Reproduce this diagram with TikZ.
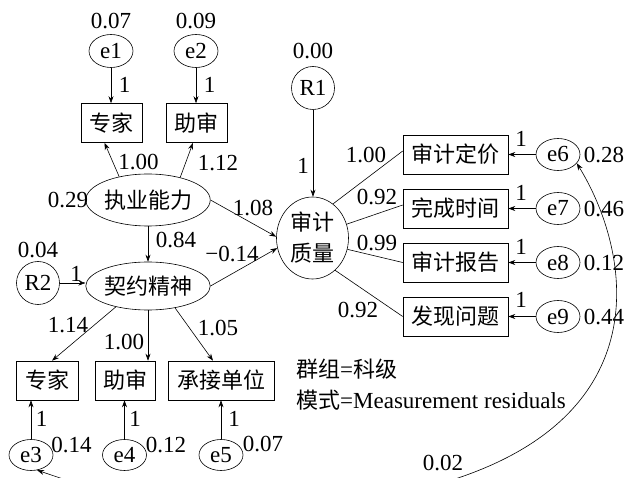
\documentclass[tikz,border=0pt]{standalone}
\usepackage{fontspec}
\setmainfont{Liberation Serif}
\newfontfamily\cjk{Noto Sans CJK SC}
\usetikzlibrary{arrows.meta,shapes.geometric}
\begin{document}
\begin{tikzpicture}[x=1pt,y=-1pt,
  every node/.style={font=\fontsize{23}{26}\selectfont, inner sep=0pt},
  lat/.style={draw, ellipse, minimum width=110pt, minimum height=52pt, line width=0.6pt},
  obs/.style={draw, rectangle, minimum height=39pt, line width=0.6pt},
  err/.style={draw, ellipse, minimum width=44pt, minimum height=33pt, line width=0.6pt},
  res/.style={draw, circle, minimum size=43pt, line width=0.6pt},
  arr/.style={-{Stealth[length=7pt,width=5pt]}, line width=0.6pt},
  ln/.style={line width=0.6pt}]
\useasboundingbox (0,0) rectangle (632,478);

% top indicators of 执业能力
\node[err] (e1) at (111,51) {e1};
\node[err] (e2) at (196,51) {e2};
\node (v1) at (111,21) {0.07};
\node (v2) at (196,21) {0.09};
\node[obs, minimum width=61pt, font=\fontsize{22}{26}\selectfont] (zj1) at (111.5,123) {\cjk 专家};
\node[obs, minimum width=61pt, font=\fontsize{22}{26}\selectfont] (zs1) at (196.5,123) {\cjk 助审};
\node[lat, font=\fontsize{22}{26}\selectfont] (zy) at (148,200) {\cjk 执业能力};
\node (v29) at (68,200) {0.29};
\draw[arr] (e1.south) -- (e1.south |- zj1.north);
\draw[arr] (e2.south) -- (e2.south |- zs1.north);
\node (l1) at (124.5,84.5) {1};
\node (l2) at (209.5,84.5) {1};
\draw[arr] (zy.141) -- ([xshift=-7pt]zj1.south);
\draw[arr] (zy.35) -- ([xshift=-3.5pt]zs1.south);
\node (w1) at (138.5,162) {1.00};
\node (w2) at (218,163) {1.12};

% R1 and 审计质量
\node[res] (R1) at (313,88) {R1};
\node (vR1) at (313,51) {0.00};
\node[draw, ellipse, minimum width=72pt, minimum height=82pt, line width=0.6pt,
      align=center, font=\fontsize{22}{31}\selectfont] (zl) at (312.5,238) {\cjk 审计\\\cjk 质量};
\draw[arr] (R1.south) -- (R1.south |- zl.north);
\node (lR1) at (303,166) {1};
\draw[arr] (zy.east) -- (zl.178);
\node (w108) at (253,208) {1.08};

% 契约精神
\node[lat, minimum height=48pt, font=\fontsize{22}{26}\selectfont] (qy) at (148,286) {\cjk 契约精神};
\draw[arr] (zy.south) -- (qy.north);
\node (w84) at (176,240) {0.84};
\draw[arr] (qy.east) -- (zl.196);
\node (w14) at (232,254) {−0.14};
\node[res] (R2) at (38,283) {R2};
\node (vR2) at (38,250) {0.04};
\draw[arr] (R2.east) -- (R2.east -| qy.west);
\node (lR2) at (76,274) {1};

% bottom indicators
\node[obs, minimum width=62pt, font=\fontsize{22}{26}\selectfont] (zj2) at (47,380.5) {\cjk 专家};
\node[obs, minimum width=60pt, font=\fontsize{22}{26}\selectfont] (zs2) at (125,380.5) {\cjk 助审};
\node[obs, minimum width=106pt, font=\fontsize{22}{26}\selectfont] (cj) at (221,380.5) {\cjk 承接单位};
\draw[arr] (qy.213) -- ([xshift=5pt]zj2.north);
\draw[arr] (qy.south) -- (qy.south |- zs2.north);
\draw[arr] (qy.-39) -- ([xshift=-8pt]cj.north);
\node (w114) at (68,325) {1.14};
\node (w100b) at (124,342) {1.00};
\node (w105) at (218,328) {1.05};

\node[err, minimum height=31pt] (e3) at (31,455) {e3};
\node[err, minimum height=31pt] (e4) at (124.5,455) {e4};
\node[err, minimum height=31pt] (e5) at (221,455) {e5};
\draw[arr] (e3.north) -- (e3.north |- zj2.south);
\draw[arr] (e4.north) -- (e4.north |- zs2.south);
\draw[arr] (e5.north) -- (e5.north |- cj.south);
\node (l3) at (41.5,418.5) {1};
\node (l4) at (135,418.5) {1};
\node (l5) at (234,418.5) {1};
\node (v3) at (71.5,445) {0.14};
\node (v4) at (166,445) {0.12};
\node (v5) at (263,444) {0.07};

% right indicators of 审计质量
\node[obs, minimum width=105pt, font=\fontsize{22}{26}\selectfont] (dj) at (455.5,154.5) {\cjk 审计定价};
\node[obs, minimum width=105pt, font=\fontsize{22}{26}\selectfont] (wc) at (455.5,208.5) {\cjk 完成时间};
\node[obs, minimum width=105pt, font=\fontsize{22}{26}\selectfont] (bg) at (455.5,262.5) {\cjk 审计报告};
\node[obs, minimum width=105pt, font=\fontsize{22}{26}\selectfont] (fx) at (455.5,316.5) {\cjk 发现问题};
\node[err, minimum height=32pt] (e6) at (558,154.5) {e6};
\node[err, minimum height=32pt] (e7) at (558,208.5) {e7};
\node[err, minimum height=32pt] (e8) at (558,262.5) {e8};
\node[err, minimum height=32pt] (e9) at (558,316.5) {e9};
\draw[arr] (e6.west) -- (dj.east);
\draw[arr] (e7.west) -- (wc.east);
\draw[arr] (e8.west) -- (bg.east);
\draw[arr] (e9.west) -- (fx.east);
\node (l6) at (521,138.5) {1};
\node (l7) at (521,192.5) {1};
\node (l8) at (521,246.5) {1};
\node (l9) at (521,300) {1};
\node (v6) at (604,155) {0.28};
\node (v7) at (604,209) {0.46};
\node (v8) at (604,263) {0.12};
\node (v9) at (604,317) {0.44};

\draw[ln] (zl.59) -- ([yshift=3.5pt]dj.west);
\draw[ln] (zl.22) -- ([yshift=3.5pt]wc.west);
\draw[ln] (zl.-18) -- (bg.west);
\draw[ln] (zl.-55) -- (fx.west);
\node (w100r) at (366,155) {1.00};
\node (w92a) at (377,197) {0.92};
\node (w99) at (377,243) {0.99};
\node (w92b) at (358,310) {0.92};

% notes
\node[anchor=west] (n1) at (296,369) {{\fontsize{22}{26}\selectfont\cjk 群组}={\fontsize{22}{26}\selectfont\cjk 科级}};
\node[anchor=west] (n2) at (296,400) {{\fontsize{22}{26}\selectfont\cjk 模式}=Measurement residuals};

% covariance e3 <-> e6
\begin{scope}
  \clip (0,0) rectangle (632,478);
  \draw[{Stealth[length=7pt,width=5pt]}-{Stealth[length=7pt,width=5pt]}, line width=0.6pt]
    (e6.-25) .. controls (630,250) and (660,410) .. (458,478)
    .. controls (280,554) and (110,495) .. (e3.-68);
\end{scope}
\node (v02) at (443,463.5) {0.02};
\end{tikzpicture}
\end{document}
